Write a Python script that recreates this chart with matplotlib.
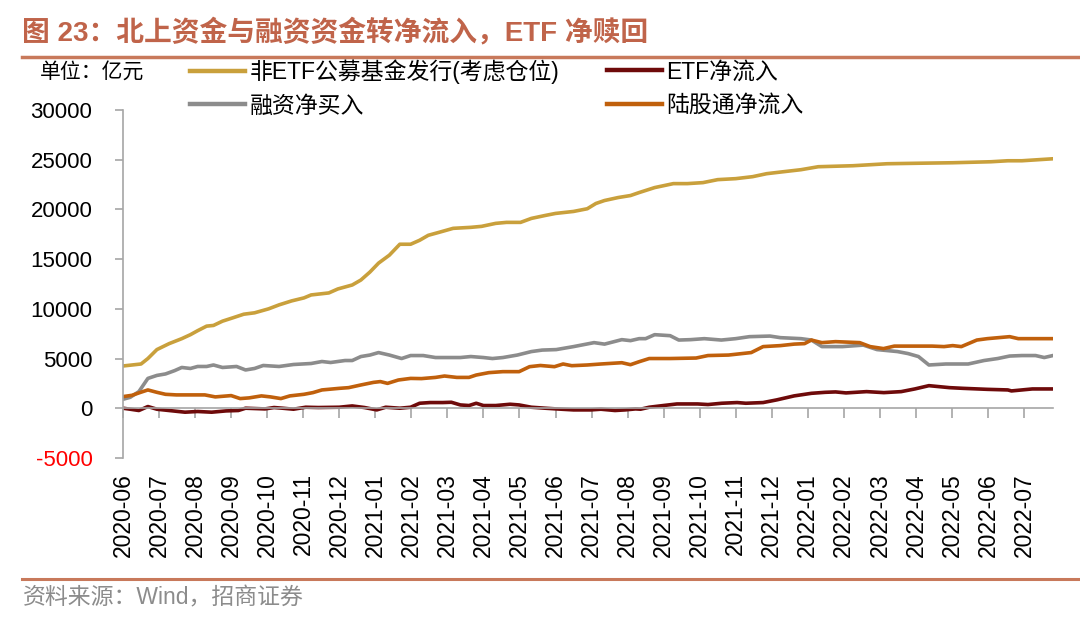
import matplotlib
matplotlib.use("Agg")
import matplotlib.pyplot as plt
from matplotlib.lines import Line2D

plt.rcParams['font.family'] = ['Liberation Sans', 'Noto Sans CJK SC', 'DejaVu Sans']

# x positions are months counted from 2020-06-01
tick_labels = ['2020-06', '2020-07', '2020-08', '2020-09', '2020-10', '2020-11', '2020-12',
               '2021-01', '2021-02', '2021-03', '2021-04', '2021-05', '2021-06', '2021-07',
               '2021-08', '2021-09', '2021-10', '2021-11', '2021-12', '2022-01', '2022-02',
               '2022-03', '2022-04', '2022-05', '2022-06', '2022-07']

# 非ETF公募基金发行(考虑仓位), 亿元
fund_x = [0, 0.5, 0.69, 0.94, 1.28, 1.63, 1.87, 2.07, 2.32, 2.51, 2.76, 3.05, 3.35, 3.65, 4.04,
          4.33, 4.68, 5.02, 5.22, 5.71, 5.96, 6.36, 6.6, 6.85, 7.09, 7.39, 7.68, 7.98, 8.23,
          8.47, 8.77, 9.16, 9.65, 9.95, 10.34, 10.64, 11.03, 11.33, 11.72, 12.0, 12.5, 12.88,
          13.12, 13.36, 13.74, 14.08, 14.32, 14.75, 15.27, 15.66, 16.09, 16.5, 17.0, 17.47,
          17.86, 18.33, 18.81, 19.29, 19.77, 20.25, 20.73, 21.2, 22.07, 23.02, 24.08, 24.55,
          24.94, 25.8]
fund_y = [4250, 4450, 5000, 5900, 6500, 7000, 7400, 7800, 8260, 8330, 8760, 9100, 9460, 9600,
          10000, 10400, 10800, 11100, 11400, 11600, 12000, 12400, 12900, 13700, 14600, 15400,
          16500, 16500, 16900, 17400, 17700, 18100, 18200, 18300, 18600, 18700, 18700, 19100,
          19400, 19600, 19800, 20070, 20600, 20900, 21200, 21400, 21700, 22200, 22600, 22600,
          22700, 23000, 23100, 23300, 23600, 23800, 24000, 24300, 24350, 24400, 24500, 24600,
          24650, 24700, 24800, 24900, 24900, 25100]

# ETF净流入
etf_x = [0, 0.2, 0.44, 0.69, 0.94, 1.38, 1.72, 2.07, 2.46, 2.86, 3.2, 3.4, 3.94, 4.19, 4.43,
         4.73, 5.07, 5.42, 6.0, 6.36, 6.7, 7.04, 7.29, 7.68, 7.98, 8.23, 8.52, 8.87, 9.11,
         9.36, 9.6, 9.8, 10.0, 10.34, 10.74, 10.99, 11.33, 11.72, 12.02, 12.5, 12.98, 13.26,
         13.65, 13.93, 14.22, 14.36, 14.6, 14.99, 15.37, 15.94, 16.23, 16.61, 17.04, 17.28,
         17.76, 18.14, 18.62, 19.1, 19.48, 19.77, 20.06, 20.63, 21.11, 21.59, 21.97, 22.36,
         22.93, 23.31, 23.98, 24.55, 24.65, 25.23, 25.8]
etf_y = [0, -100, -230, 170, -100, -270, -400, -330, -400, -270, -230, 0, -70, 70, 0, -100,
         100, 70, 100, 230, 70, -170, 100, 0, 100, 500, 570, 570, 600, 330, 270, 500, 270,
         270, 400, 330, 100, 0, -70, -170, -170, -100, -230, -170, -70, -100, 100, 270, 430,
         430, 370, 500, 570, 500, 570, 840, 1240, 1500, 1600, 1640, 1540, 1670, 1570, 1670,
         1940, 2270, 2070, 2000, 1900, 1840, 1740, 1940, 1940]

# 融资净买入
margin_x = [0, 0.2, 0.44, 0.69, 0.94, 1.18, 1.43, 1.63, 1.87, 2.07, 2.32, 2.51, 2.76, 3.15,
            3.4, 3.65, 3.89, 4.33, 4.73, 5.22, 5.52, 5.76, 6.16, 6.36, 6.6, 6.85, 7.09, 7.39,
            7.73, 7.98, 8.33, 8.67, 9.36, 9.65, 10.0, 10.25, 10.54, 10.94, 11.33, 11.63, 12.02,
            12.5, 13.07, 13.36, 13.84, 14.08, 14.32, 14.5, 14.75, 15.18, 15.42, 15.75, 16.13,
            16.6, 17.0, 17.38, 17.95, 18.24, 18.81, 19.1, 19.39, 19.96, 20.54, 20.92, 21.49,
            21.78, 22.07, 22.36, 22.83, 23.45, 23.89, 24.27, 24.6, 24.94, 25.32, 25.56, 25.8]
margin_y = [900, 1100, 1670, 3000, 3300, 3450, 3780, 4100, 4000, 4200, 4200, 4350, 4100, 4200,
            3850, 4000, 4300, 4200, 4400, 4500, 4700, 4600, 4800, 4800, 5200, 5350, 5600, 5350,
            5000, 5300, 5300, 5100, 5100, 5200, 5100, 5000, 5100, 5350, 5700, 5850, 5900, 6200,
            6600, 6450, 6900, 6800, 7000, 7000, 7400, 7300, 6860, 6900, 7000, 6860, 7000, 7200,
            7260, 7100, 7000, 6860, 6200, 6200, 6350, 5900, 5700, 5500, 5200, 4350, 4450, 4450,
            4800, 5000, 5250, 5300, 5300, 5100, 5300]

# 陆股通净流入
north_x = [0, 0.25, 0.49, 0.69, 0.94, 1.18, 1.48, 1.82, 2.27, 2.56, 3.0, 3.25, 3.5, 3.84,
           4.09, 4.38, 4.63, 5.02, 5.27, 5.52, 6.0, 6.26, 6.6, 6.95, 7.14, 7.34, 7.64, 7.98,
           8.28, 8.67, 8.92, 9.26, 9.6, 9.8, 10.15, 10.54, 10.99, 11.28, 11.58, 11.97, 12.21,
           12.45, 12.88, 13.26, 13.84, 14.08, 14.32, 14.6, 15.18, 15.9, 16.23, 16.8, 17.43,
           17.76, 18.24, 18.62, 18.91, 19.1, 19.39, 19.77, 20.44, 20.73, 21.1, 21.4, 21.97,
           22.45, 22.78, 23.02, 23.26, 23.69, 23.98, 24.6, 24.84, 25.32, 25.8]
north_y = [1170, 1300, 1600, 1840, 1600, 1400, 1340, 1340, 1340, 1140, 1270, 970, 1040, 1240,
           1140, 970, 1240, 1400, 1570, 1840, 2000, 2070, 2340, 2600, 2680, 2500, 2840, 3000,
           2980, 3100, 3240, 3100, 3100, 3340, 3580, 3680, 3680, 4180, 4300, 4180, 4450, 4280,
           4350, 4450, 4580, 4380, 4680, 5000, 5000, 5050, 5300, 5350, 5600, 6200, 6300, 6450,
           6500, 6860, 6600, 6700, 6600, 6200, 6000, 6250, 6250, 6250, 6200, 6300, 6200, 6860,
           7000, 7200, 7000, 7000, 7000]

fund_color = '#C9A03C'
etf_color = '#6E0A0A'
margin_color = '#8C8C8C'
north_color = '#C0600C'
accent = '#C8795B'
axis_grey = '#A6A6A6'

fig = plt.figure(figsize=(10.8, 6.29), dpi=100)
ax = fig.add_axes([0.1139, 0.272, 0.861, 0.553])

lw = 2.6
ax.plot(fund_x, fund_y, color=fund_color, lw=lw, solid_joinstyle='round')
ax.plot(etf_x, etf_y, color=etf_color, lw=lw, solid_joinstyle='round')
ax.plot(margin_x, margin_y, color=margin_color, lw=lw, solid_joinstyle='round')
ax.plot(north_x, north_y, color=north_color, lw=lw, solid_joinstyle='round')

ax.set_xlim(0, 25.8)
ax.set_ylim(-5000, 30000)
ax.set_yticks(range(-5000, 30001, 5000))
ax.yaxis.set_major_formatter(matplotlib.ticker.FuncFormatter(lambda v, p: f'{int(v)}'))
ax.tick_params(axis='y', direction='out', length=6, width=1.2, color=axis_grey,
               labelsize=16, pad=16)
ax.get_yticklabels()[0].set_color('red')

# x axis line sits on the zero line, labels stay at the bottom
month_ticks = list(range(len(tick_labels)))
ax.spines['bottom'].set_position(('data', 0))
ax.spines['bottom'].set_color(axis_grey)
ax.spines['bottom'].set_linewidth(1.2)
ax.spines['left'].set_color(axis_grey)
ax.spines['left'].set_linewidth(1.2)
ax.spines['top'].set_visible(False)
ax.spines['right'].set_visible(False)
ax.set_xticks(month_ticks)
ax.tick_params(axis='x', direction='out', length=7, width=1.2, color=axis_grey,
               labelbottom=False)

sec = ax.secondary_xaxis(0)
sec.set_xticks(month_ticks, labels=tick_labels)
sec.tick_params(length=0, pad=11, labelsize=16.5, labelrotation=90)
sec.spines['bottom'].set_visible(False)

# legend, two columns placed like the original
leg_font = {'size': 16.5}
h1 = [Line2D([], [], color=fund_color, lw=3.2), Line2D([], [], color=margin_color, lw=3.2)]
h2 = [Line2D([], [], color=etf_color, lw=3.2), Line2D([], [], color=north_color, lw=3.2)]
leg1 = fig.legend(h1, ['非ETF公募基金发行(考虑仓位)', '融资净买入'], loc='center left',
                  bbox_to_anchor=(190 / 1080, 1 - 88.5 / 629), frameon=False, prop=leg_font,
                  handlelength=2.4, handletextpad=0.2, labelspacing=0.45,
                  borderpad=0, borderaxespad=0)
leg2 = fig.legend(h2, ['ETF净流入', '陆股通净流入'], loc='center left',
                  bbox_to_anchor=(607 / 1080, 1 - 88.5 / 629), frameon=False, prop=leg_font,
                  handlelength=2.4, handletextpad=0.2, labelspacing=0.45,
                  borderpad=0, borderaxespad=0)

fig.text(40 / 1080, 1 - 72 / 629, '单位：亿元', fontsize=15, va='center', ha='left')

# title and rules
fig.text(22 / 1080, 1 - 32 / 629, '图 23：北上资金与融资资金转净流入，ETF 净赎回',
         fontsize=20, fontweight='bold', color='#C0644A', va='center', ha='left')
fig.add_artist(Line2D([22 / 1080, 1], [1 - 57 / 629] * 2, color=accent, lw=2.5))
fig.add_artist(Line2D([22 / 1080, 1], [1 - 579 / 629] * 2, color=accent, lw=2.2))
fig.text(23 / 1080, 1 - 598 / 629, '资料来源：Wind，招商证券', fontsize=16.5,
         color='#8C8C8C', va='center', ha='left')

fig.savefig('out.png', dpi=100)
